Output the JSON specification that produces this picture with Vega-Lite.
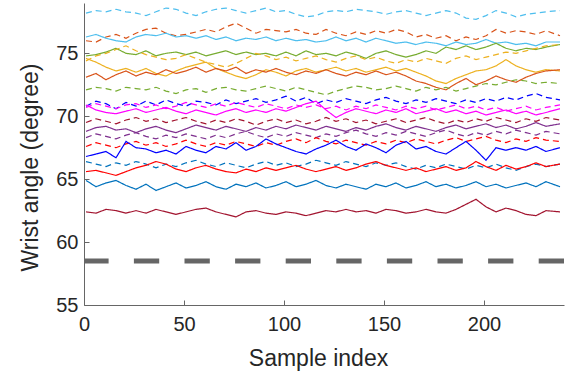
{
"$schema": "https://vega.github.io/schema/vega-lite/v6.json",
"width": 480, "height": 302,
"autosize": {"type": "none"},
"padding": {"left": 84, "top": 3, "right": 9, "bottom": 70},
"config": {"view": {"stroke": null}, "font": "Liberation Sans"},
"layer": [
{
"data": {"values": [
{"s":"a","x":1,"y":78.2},{"s":"a","x":6,"y":78.4},{"s":"a","x":11,"y":78.3},{"s":"a","x":16,"y":78.5},{"s":"a","x":21,"y":78.3},{"s":"a","x":26,"y":78.2},{"s":"a","x":31,"y":78.0},{"s":"a","x":36,"y":78.3},{"s":"a","x":41,"y":78.6},{"s":"a","x":46,"y":78.5},{"s":"a","x":51,"y":78.2},{"s":"a","x":56,"y":78.0},{"s":"a","x":61,"y":78.3},{"s":"a","x":66,"y":78.5},{"s":"a","x":71,"y":78.6},{"s":"a","x":76,"y":78.4},{"s":"a","x":81,"y":78.2},{"s":"a","x":86,"y":78.4},{"s":"a","x":91,"y":78.6},{"s":"a","x":96,"y":78.3},{"s":"a","x":101,"y":78.4},{"s":"a","x":106,"y":78.1},{"s":"a","x":111,"y":77.9},{"s":"a","x":116,"y":78.0},{"s":"a","x":121,"y":78.3},{"s":"a","x":126,"y":78.4},{"s":"a","x":131,"y":78.3},{"s":"a","x":136,"y":78.5},{"s":"a","x":141,"y":78.4},{"s":"a","x":146,"y":78.3},{"s":"a","x":151,"y":78.1},{"s":"a","x":156,"y":78.3},{"s":"a","x":161,"y":78.4},{"s":"a","x":166,"y":78.2},{"s":"a","x":171,"y":78.0},{"s":"a","x":176,"y":78.2},{"s":"a","x":181,"y":78.4},{"s":"a","x":186,"y":78.2},{"s":"a","x":191,"y":77.8},{"s":"a","x":196,"y":77.7},{"s":"a","x":201,"y":78.0},{"s":"a","x":206,"y":78.4},{"s":"a","x":211,"y":78.2},{"s":"a","x":216,"y":77.9},{"s":"a","x":221,"y":78.1},{"s":"a","x":226,"y":78.2},{"s":"a","x":231,"y":78.3},{"s":"a","x":238,"y":78.4},
{"s":"b","x":1,"y":76.0},{"s":"b","x":6,"y":75.9},{"s":"b","x":11,"y":76.3},{"s":"b","x":16,"y":76.5},{"s":"b","x":21,"y":76.2},{"s":"b","x":26,"y":76.6},{"s":"b","x":31,"y":76.9},{"s":"b","x":36,"y":77.0},{"s":"b","x":41,"y":76.6},{"s":"b","x":46,"y":76.4},{"s":"b","x":51,"y":76.5},{"s":"b","x":56,"y":76.7},{"s":"b","x":61,"y":76.9},{"s":"b","x":66,"y":76.7},{"s":"b","x":71,"y":77.1},{"s":"b","x":76,"y":77.4},{"s":"b","x":81,"y":77.0},{"s":"b","x":86,"y":76.6},{"s":"b","x":91,"y":76.9},{"s":"b","x":96,"y":76.8},{"s":"b","x":101,"y":76.7},{"s":"b","x":106,"y":76.9},{"s":"b","x":111,"y":76.6},{"s":"b","x":116,"y":76.5},{"s":"b","x":121,"y":76.9},{"s":"b","x":126,"y":76.6},{"s":"b","x":131,"y":76.4},{"s":"b","x":136,"y":76.7},{"s":"b","x":141,"y":76.5},{"s":"b","x":146,"y":76.8},{"s":"b","x":151,"y":76.6},{"s":"b","x":156,"y":76.9},{"s":"b","x":161,"y":76.7},{"s":"b","x":166,"y":76.3},{"s":"b","x":171,"y":76.5},{"s":"b","x":176,"y":76.2},{"s":"b","x":181,"y":76.4},{"s":"b","x":186,"y":76.0},{"s":"b","x":191,"y":76.3},{"s":"b","x":196,"y":76.1},{"s":"b","x":201,"y":76.4},{"s":"b","x":206,"y":76.9},{"s":"b","x":211,"y":76.6},{"s":"b","x":216,"y":76.8},{"s":"b","x":221,"y":76.7},{"s":"b","x":226,"y":76.5},{"s":"b","x":231,"y":76.8},{"s":"b","x":238,"y":76.4},
{"s":"c","x":1,"y":76.3},{"s":"c","x":6,"y":76.5},{"s":"c","x":11,"y":76.2},{"s":"c","x":16,"y":76.0},{"s":"c","x":21,"y":75.9},{"s":"c","x":26,"y":76.3},{"s":"c","x":31,"y":76.5},{"s":"c","x":36,"y":76.4},{"s":"c","x":41,"y":76.6},{"s":"c","x":46,"y":76.3},{"s":"c","x":51,"y":76.4},{"s":"c","x":56,"y":76.2},{"s":"c","x":61,"y":76.4},{"s":"c","x":66,"y":76.1},{"s":"c","x":71,"y":76.3},{"s":"c","x":76,"y":76.0},{"s":"c","x":81,"y":76.2},{"s":"c","x":86,"y":76.1},{"s":"c","x":91,"y":76.3},{"s":"c","x":96,"y":76.0},{"s":"c","x":101,"y":76.2},{"s":"c","x":106,"y":76.0},{"s":"c","x":111,"y":76.1},{"s":"c","x":116,"y":75.9},{"s":"c","x":121,"y":76.0},{"s":"c","x":126,"y":76.3},{"s":"c","x":131,"y":76.0},{"s":"c","x":136,"y":76.2},{"s":"c","x":141,"y":75.9},{"s":"c","x":146,"y":76.2},{"s":"c","x":151,"y":76.0},{"s":"c","x":156,"y":75.8},{"s":"c","x":161,"y":75.9},{"s":"c","x":166,"y":75.7},{"s":"c","x":171,"y":75.9},{"s":"c","x":176,"y":75.8},{"s":"c","x":181,"y":75.6},{"s":"c","x":186,"y":75.9},{"s":"c","x":191,"y":75.7},{"s":"c","x":196,"y":75.8},{"s":"c","x":201,"y":76.1},{"s":"c","x":206,"y":75.8},{"s":"c","x":211,"y":75.9},{"s":"c","x":216,"y":75.7},{"s":"c","x":221,"y":75.8},{"s":"c","x":226,"y":75.6},{"s":"c","x":231,"y":75.9},{"s":"c","x":238,"y":75.9},
{"s":"d","x":1,"y":74.8},{"s":"d","x":6,"y":74.9},{"s":"d","x":11,"y":75.1},{"s":"d","x":16,"y":75.4},{"s":"d","x":21,"y":75.0},{"s":"d","x":26,"y":74.9},{"s":"d","x":31,"y":75.2},{"s":"d","x":36,"y":74.8},{"s":"d","x":41,"y":75.0},{"s":"d","x":46,"y":75.1},{"s":"d","x":51,"y":74.9},{"s":"d","x":56,"y":75.1},{"s":"d","x":61,"y":74.8},{"s":"d","x":66,"y":75.0},{"s":"d","x":71,"y":75.2},{"s":"d","x":76,"y":74.9},{"s":"d","x":81,"y":75.1},{"s":"d","x":86,"y":74.9},{"s":"d","x":91,"y":75.0},{"s":"d","x":96,"y":74.8},{"s":"d","x":101,"y":75.1},{"s":"d","x":106,"y":74.8},{"s":"d","x":111,"y":75.2},{"s":"d","x":116,"y":74.9},{"s":"d","x":121,"y":75.0},{"s":"d","x":126,"y":74.8},{"s":"d","x":131,"y":75.1},{"s":"d","x":136,"y":74.9},{"s":"d","x":141,"y":74.6},{"s":"d","x":146,"y":75.0},{"s":"d","x":151,"y":75.2},{"s":"d","x":156,"y":74.9},{"s":"d","x":161,"y":74.7},{"s":"d","x":166,"y":74.9},{"s":"d","x":171,"y":75.2},{"s":"d","x":176,"y":75.0},{"s":"d","x":181,"y":75.5},{"s":"d","x":186,"y":75.3},{"s":"d","x":191,"y":75.6},{"s":"d","x":196,"y":75.3},{"s":"d","x":201,"y":75.5},{"s":"d","x":206,"y":75.8},{"s":"d","x":211,"y":75.4},{"s":"d","x":216,"y":75.2},{"s":"d","x":221,"y":75.4},{"s":"d","x":226,"y":75.3},{"s":"d","x":231,"y":75.5},{"s":"d","x":238,"y":75.7},
{"s":"e","x":1,"y":74.4},{"s":"e","x":6,"y":74.8},{"s":"e","x":11,"y":75.0},{"s":"e","x":16,"y":75.3},{"s":"e","x":21,"y":75.6},{"s":"e","x":26,"y":75.2},{"s":"e","x":31,"y":74.9},{"s":"e","x":36,"y":74.7},{"s":"e","x":41,"y":74.5},{"s":"e","x":46,"y":74.6},{"s":"e","x":51,"y":74.9},{"s":"e","x":56,"y":74.6},{"s":"e","x":61,"y":74.3},{"s":"e","x":66,"y":74.1},{"s":"e","x":71,"y":73.9},{"s":"e","x":76,"y":74.2},{"s":"e","x":81,"y":74.6},{"s":"e","x":86,"y":75.0},{"s":"e","x":91,"y":74.8},{"s":"e","x":96,"y":74.5},{"s":"e","x":101,"y":74.7},{"s":"e","x":106,"y":74.4},{"s":"e","x":111,"y":74.6},{"s":"e","x":116,"y":74.8},{"s":"e","x":121,"y":74.5},{"s":"e","x":126,"y":74.3},{"s":"e","x":131,"y":74.6},{"s":"e","x":136,"y":74.8},{"s":"e","x":141,"y":74.5},{"s":"e","x":146,"y":74.7},{"s":"e","x":151,"y":74.4},{"s":"e","x":156,"y":74.2},{"s":"e","x":161,"y":74.5},{"s":"e","x":166,"y":74.3},{"s":"e","x":171,"y":74.6},{"s":"e","x":176,"y":74.4},{"s":"e","x":181,"y":74.2},{"s":"e","x":186,"y":74.6},{"s":"e","x":191,"y":74.8},{"s":"e","x":196,"y":74.5},{"s":"e","x":201,"y":74.7},{"s":"e","x":206,"y":74.9},{"s":"e","x":211,"y":75.1},{"s":"e","x":216,"y":75.0},{"s":"e","x":221,"y":75.2},{"s":"e","x":226,"y":75.4},{"s":"e","x":231,"y":75.6},{"s":"e","x":238,"y":75.7},
{"s":"f","x":1,"y":74.6},{"s":"f","x":6,"y":74.3},{"s":"f","x":11,"y":73.9},{"s":"f","x":16,"y":73.6},{"s":"f","x":21,"y":73.8},{"s":"f","x":26,"y":73.5},{"s":"f","x":31,"y":73.8},{"s":"f","x":36,"y":73.4},{"s":"f","x":41,"y":73.2},{"s":"f","x":46,"y":73.6},{"s":"f","x":51,"y":73.9},{"s":"f","x":56,"y":74.1},{"s":"f","x":61,"y":74.3},{"s":"f","x":66,"y":73.8},{"s":"f","x":71,"y":73.5},{"s":"f","x":76,"y":73.2},{"s":"f","x":81,"y":73.0},{"s":"f","x":86,"y":73.3},{"s":"f","x":91,"y":73.7},{"s":"f","x":96,"y":73.5},{"s":"f","x":101,"y":73.2},{"s":"f","x":106,"y":73.6},{"s":"f","x":111,"y":73.8},{"s":"f","x":116,"y":73.5},{"s":"f","x":121,"y":73.7},{"s":"f","x":126,"y":73.9},{"s":"f","x":131,"y":73.6},{"s":"f","x":136,"y":73.8},{"s":"f","x":141,"y":73.5},{"s":"f","x":146,"y":73.7},{"s":"f","x":151,"y":73.9},{"s":"f","x":156,"y":73.6},{"s":"f","x":161,"y":73.8},{"s":"f","x":166,"y":73.5},{"s":"f","x":171,"y":73.2},{"s":"f","x":176,"y":72.8},{"s":"f","x":181,"y":72.6},{"s":"f","x":186,"y":73.0},{"s":"f","x":191,"y":73.3},{"s":"f","x":196,"y":73.6},{"s":"f","x":201,"y":73.7},{"s":"f","x":206,"y":74.0},{"s":"f","x":211,"y":74.5},{"s":"f","x":216,"y":74.0},{"s":"f","x":221,"y":73.7},{"s":"f","x":226,"y":73.5},{"s":"f","x":231,"y":73.7},{"s":"f","x":238,"y":73.6},
{"s":"g","x":1,"y":73.1},{"s":"g","x":6,"y":73.4},{"s":"g","x":11,"y":72.9},{"s":"g","x":16,"y":73.3},{"s":"g","x":21,"y":73.6},{"s":"g","x":26,"y":73.2},{"s":"g","x":31,"y":73.5},{"s":"g","x":36,"y":73.3},{"s":"g","x":41,"y":73.7},{"s":"g","x":46,"y":73.4},{"s":"g","x":51,"y":73.6},{"s":"g","x":56,"y":73.9},{"s":"g","x":61,"y":73.5},{"s":"g","x":66,"y":73.8},{"s":"g","x":71,"y":73.6},{"s":"g","x":76,"y":73.9},{"s":"g","x":81,"y":73.4},{"s":"g","x":86,"y":73.7},{"s":"g","x":91,"y":73.5},{"s":"g","x":96,"y":73.8},{"s":"g","x":101,"y":73.5},{"s":"g","x":106,"y":73.3},{"s":"g","x":111,"y":73.6},{"s":"g","x":116,"y":73.4},{"s":"g","x":121,"y":73.7},{"s":"g","x":126,"y":73.4},{"s":"g","x":131,"y":73.2},{"s":"g","x":136,"y":73.5},{"s":"g","x":141,"y":73.3},{"s":"g","x":146,"y":73.6},{"s":"g","x":151,"y":73.3},{"s":"g","x":156,"y":73.5},{"s":"g","x":161,"y":73.2},{"s":"g","x":166,"y":72.8},{"s":"g","x":171,"y":72.6},{"s":"g","x":176,"y":72.3},{"s":"g","x":181,"y":72.1},{"s":"g","x":186,"y":72.6},{"s":"g","x":191,"y":73.0},{"s":"g","x":196,"y":72.5},{"s":"g","x":201,"y":72.8},{"s":"g","x":206,"y":73.2},{"s":"g","x":211,"y":72.9},{"s":"g","x":216,"y":72.7},{"s":"g","x":221,"y":73.1},{"s":"g","x":226,"y":73.4},{"s":"g","x":231,"y":73.6},{"s":"g","x":238,"y":73.7},
{"s":"h","x":1,"y":72.1},{"s":"h","x":6,"y":72.3},{"s":"h","x":11,"y":72.2},{"s":"h","x":16,"y":72.0},{"s":"h","x":21,"y":72.3},{"s":"h","x":26,"y":72.2},{"s":"h","x":31,"y":72.1},{"s":"h","x":36,"y":72.3},{"s":"h","x":41,"y":72.0},{"s":"h","x":46,"y":71.8},{"s":"h","x":51,"y":72.1},{"s":"h","x":56,"y":72.2},{"s":"h","x":61,"y":71.9},{"s":"h","x":66,"y":72.2},{"s":"h","x":71,"y":72.3},{"s":"h","x":76,"y":72.1},{"s":"h","x":81,"y":72.0},{"s":"h","x":86,"y":72.2},{"s":"h","x":91,"y":72.4},{"s":"h","x":96,"y":72.2},{"s":"h","x":101,"y":72.0},{"s":"h","x":106,"y":72.3},{"s":"h","x":111,"y":72.1},{"s":"h","x":116,"y":71.9},{"s":"h","x":121,"y":71.7},{"s":"h","x":126,"y":72.0},{"s":"h","x":131,"y":72.2},{"s":"h","x":136,"y":72.4},{"s":"h","x":141,"y":72.3},{"s":"h","x":146,"y":72.1},{"s":"h","x":151,"y":72.2},{"s":"h","x":156,"y":72.4},{"s":"h","x":161,"y":72.2},{"s":"h","x":166,"y":72.0},{"s":"h","x":171,"y":72.3},{"s":"h","x":176,"y":72.1},{"s":"h","x":181,"y":72.3},{"s":"h","x":186,"y":72.0},{"s":"h","x":191,"y":72.2},{"s":"h","x":196,"y":72.4},{"s":"h","x":201,"y":72.6},{"s":"h","x":206,"y":72.5},{"s":"h","x":211,"y":72.7},{"s":"h","x":216,"y":72.9},{"s":"h","x":221,"y":72.8},{"s":"h","x":226,"y":72.6},{"s":"h","x":231,"y":72.7},{"s":"h","x":238,"y":72.6},
{"s":"i","x":1,"y":70.8},{"s":"i","x":6,"y":71.2},{"s":"i","x":11,"y":71.0},{"s":"i","x":16,"y":70.6},{"s":"i","x":21,"y":71.1},{"s":"i","x":26,"y":70.8},{"s":"i","x":31,"y":71.2},{"s":"i","x":36,"y":70.9},{"s":"i","x":41,"y":71.3},{"s":"i","x":46,"y":71.0},{"s":"i","x":51,"y":70.8},{"s":"i","x":56,"y":71.2},{"s":"i","x":61,"y":71.1},{"s":"i","x":66,"y":70.9},{"s":"i","x":71,"y":71.3},{"s":"i","x":76,"y":71.0},{"s":"i","x":81,"y":71.2},{"s":"i","x":86,"y":71.4},{"s":"i","x":91,"y":71.1},{"s":"i","x":96,"y":71.3},{"s":"i","x":101,"y":71.6},{"s":"i","x":106,"y":71.2},{"s":"i","x":111,"y":71.5},{"s":"i","x":116,"y":71.0},{"s":"i","x":121,"y":71.3},{"s":"i","x":126,"y":71.1},{"s":"i","x":131,"y":71.4},{"s":"i","x":136,"y":71.2},{"s":"i","x":141,"y":71.0},{"s":"i","x":146,"y":71.3},{"s":"i","x":151,"y":71.5},{"s":"i","x":156,"y":71.2},{"s":"i","x":161,"y":71.0},{"s":"i","x":166,"y":71.3},{"s":"i","x":171,"y":71.1},{"s":"i","x":176,"y":71.4},{"s":"i","x":181,"y":71.2},{"s":"i","x":186,"y":71.0},{"s":"i","x":191,"y":71.3},{"s":"i","x":196,"y":71.1},{"s":"i","x":201,"y":71.4},{"s":"i","x":206,"y":71.2},{"s":"i","x":211,"y":71.5},{"s":"i","x":216,"y":71.3},{"s":"i","x":221,"y":71.6},{"s":"i","x":226,"y":71.8},{"s":"i","x":231,"y":71.5},{"s":"i","x":238,"y":71.3},
{"s":"j","x":1,"y":70.7},{"s":"j","x":6,"y":71.0},{"s":"j","x":11,"y":70.8},{"s":"j","x":16,"y":70.6},{"s":"j","x":21,"y":70.9},{"s":"j","x":26,"y":71.0},{"s":"j","x":31,"y":70.7},{"s":"j","x":36,"y":70.9},{"s":"j","x":41,"y":70.6},{"s":"j","x":46,"y":70.8},{"s":"j","x":51,"y":71.1},{"s":"j","x":56,"y":70.9},{"s":"j","x":61,"y":70.7},{"s":"j","x":66,"y":71.0},{"s":"j","x":71,"y":70.8},{"s":"j","x":76,"y":71.1},{"s":"j","x":81,"y":70.9},{"s":"j","x":86,"y":70.7},{"s":"j","x":91,"y":71.0},{"s":"j","x":96,"y":70.8},{"s":"j","x":101,"y":70.6},{"s":"j","x":106,"y":70.9},{"s":"j","x":111,"y":70.7},{"s":"j","x":116,"y":70.9},{"s":"j","x":121,"y":70.6},{"s":"j","x":126,"y":70.8},{"s":"j","x":131,"y":70.5},{"s":"j","x":136,"y":70.8},{"s":"j","x":141,"y":70.6},{"s":"j","x":146,"y":70.9},{"s":"j","x":151,"y":70.7},{"s":"j","x":156,"y":70.5},{"s":"j","x":161,"y":70.8},{"s":"j","x":166,"y":70.6},{"s":"j","x":171,"y":70.8},{"s":"j","x":176,"y":70.5},{"s":"j","x":181,"y":70.7},{"s":"j","x":186,"y":70.9},{"s":"j","x":191,"y":70.6},{"s":"j","x":196,"y":70.8},{"s":"j","x":201,"y":70.5},{"s":"j","x":206,"y":70.7},{"s":"j","x":211,"y":70.4},{"s":"j","x":216,"y":70.6},{"s":"j","x":221,"y":70.8},{"s":"j","x":226,"y":70.5},{"s":"j","x":231,"y":70.7},{"s":"j","x":238,"y":70.9},
{"s":"k","x":1,"y":70.9},{"s":"k","x":6,"y":70.5},{"s":"k","x":11,"y":70.3},{"s":"k","x":16,"y":70.2},{"s":"k","x":21,"y":70.4},{"s":"k","x":26,"y":70.6},{"s":"k","x":31,"y":70.3},{"s":"k","x":36,"y":70.5},{"s":"k","x":41,"y":70.7},{"s":"k","x":46,"y":70.4},{"s":"k","x":51,"y":70.2},{"s":"k","x":56,"y":70.5},{"s":"k","x":61,"y":70.3},{"s":"k","x":66,"y":70.1},{"s":"k","x":71,"y":70.4},{"s":"k","x":76,"y":70.6},{"s":"k","x":81,"y":70.3},{"s":"k","x":86,"y":70.5},{"s":"k","x":91,"y":70.3},{"s":"k","x":96,"y":70.6},{"s":"k","x":101,"y":70.4},{"s":"k","x":106,"y":70.7},{"s":"k","x":111,"y":71.0},{"s":"k","x":116,"y":71.2},{"s":"k","x":121,"y":70.5},{"s":"k","x":126,"y":69.9},{"s":"k","x":131,"y":70.3},{"s":"k","x":136,"y":70.6},{"s":"k","x":141,"y":70.4},{"s":"k","x":146,"y":70.2},{"s":"k","x":151,"y":70.5},{"s":"k","x":156,"y":70.3},{"s":"k","x":161,"y":70.6},{"s":"k","x":166,"y":70.2},{"s":"k","x":171,"y":70.4},{"s":"k","x":176,"y":70.6},{"s":"k","x":181,"y":70.3},{"s":"k","x":186,"y":70.5},{"s":"k","x":191,"y":70.2},{"s":"k","x":196,"y":70.4},{"s":"k","x":201,"y":70.1},{"s":"k","x":206,"y":70.3},{"s":"k","x":211,"y":70.5},{"s":"k","x":216,"y":70.2},{"s":"k","x":221,"y":70.4},{"s":"k","x":226,"y":70.1},{"s":"k","x":231,"y":70.3},{"s":"k","x":238,"y":70.6},
{"s":"l","x":1,"y":69.5},{"s":"l","x":6,"y":69.8},{"s":"l","x":11,"y":69.6},{"s":"l","x":16,"y":69.4},{"s":"l","x":21,"y":69.7},{"s":"l","x":26,"y":69.9},{"s":"l","x":31,"y":69.6},{"s":"l","x":36,"y":69.8},{"s":"l","x":41,"y":69.5},{"s":"l","x":46,"y":69.7},{"s":"l","x":51,"y":69.9},{"s":"l","x":56,"y":69.6},{"s":"l","x":61,"y":69.4},{"s":"l","x":66,"y":69.7},{"s":"l","x":71,"y":69.5},{"s":"l","x":76,"y":69.8},{"s":"l","x":81,"y":69.6},{"s":"l","x":86,"y":69.3},{"s":"l","x":91,"y":69.6},{"s":"l","x":96,"y":69.8},{"s":"l","x":101,"y":69.5},{"s":"l","x":106,"y":69.7},{"s":"l","x":111,"y":69.4},{"s":"l","x":116,"y":69.6},{"s":"l","x":121,"y":69.9},{"s":"l","x":126,"y":69.6},{"s":"l","x":131,"y":69.8},{"s":"l","x":136,"y":69.5},{"s":"l","x":141,"y":69.7},{"s":"l","x":146,"y":69.4},{"s":"l","x":151,"y":69.6},{"s":"l","x":156,"y":69.8},{"s":"l","x":161,"y":69.5},{"s":"l","x":166,"y":69.7},{"s":"l","x":171,"y":69.9},{"s":"l","x":176,"y":69.6},{"s":"l","x":181,"y":69.4},{"s":"l","x":186,"y":69.7},{"s":"l","x":191,"y":69.5},{"s":"l","x":196,"y":69.8},{"s":"l","x":201,"y":69.6},{"s":"l","x":206,"y":69.9},{"s":"l","x":211,"y":69.7},{"s":"l","x":216,"y":69.5},{"s":"l","x":221,"y":69.8},{"s":"l","x":226,"y":69.6},{"s":"l","x":231,"y":69.9},{"s":"l","x":238,"y":69.7},
{"s":"m","x":1,"y":68.8},{"s":"m","x":6,"y":69.1},{"s":"m","x":11,"y":69.2},{"s":"m","x":16,"y":68.9},{"s":"m","x":21,"y":69.0},{"s":"m","x":26,"y":68.7},{"s":"m","x":31,"y":69.0},{"s":"m","x":36,"y":69.2},{"s":"m","x":41,"y":68.9},{"s":"m","x":46,"y":68.7},{"s":"m","x":51,"y":69.0},{"s":"m","x":56,"y":69.3},{"s":"m","x":61,"y":69.1},{"s":"m","x":66,"y":68.9},{"s":"m","x":71,"y":69.2},{"s":"m","x":76,"y":69.0},{"s":"m","x":81,"y":68.8},{"s":"m","x":86,"y":69.1},{"s":"m","x":91,"y":68.9},{"s":"m","x":96,"y":69.2},{"s":"m","x":101,"y":69.0},{"s":"m","x":106,"y":69.3},{"s":"m","x":111,"y":69.1},{"s":"m","x":116,"y":68.9},{"s":"m","x":121,"y":69.2},{"s":"m","x":126,"y":69.0},{"s":"m","x":131,"y":68.8},{"s":"m","x":136,"y":69.1},{"s":"m","x":141,"y":68.9},{"s":"m","x":146,"y":69.2},{"s":"m","x":151,"y":69.4},{"s":"m","x":156,"y":69.1},{"s":"m","x":161,"y":68.9},{"s":"m","x":166,"y":69.2},{"s":"m","x":171,"y":69.0},{"s":"m","x":176,"y":68.8},{"s":"m","x":181,"y":69.1},{"s":"m","x":186,"y":69.3},{"s":"m","x":191,"y":69.0},{"s":"m","x":196,"y":69.2},{"s":"m","x":201,"y":69.4},{"s":"m","x":206,"y":69.1},{"s":"m","x":211,"y":69.3},{"s":"m","x":216,"y":69.0},{"s":"m","x":221,"y":69.2},{"s":"m","x":226,"y":69.5},{"s":"m","x":231,"y":69.2},{"s":"m","x":238,"y":69.4},
{"s":"n","x":1,"y":68.3},{"s":"n","x":6,"y":68.6},{"s":"n","x":11,"y":68.4},{"s":"n","x":16,"y":68.2},{"s":"n","x":21,"y":68.5},{"s":"n","x":26,"y":68.7},{"s":"n","x":31,"y":68.4},{"s":"n","x":36,"y":68.2},{"s":"n","x":41,"y":68.5},{"s":"n","x":46,"y":68.3},{"s":"n","x":51,"y":68.6},{"s":"n","x":56,"y":68.4},{"s":"n","x":61,"y":68.2},{"s":"n","x":66,"y":68.5},{"s":"n","x":71,"y":68.3},{"s":"n","x":76,"y":68.6},{"s":"n","x":81,"y":68.8},{"s":"n","x":86,"y":68.5},{"s":"n","x":91,"y":68.3},{"s":"n","x":96,"y":68.6},{"s":"n","x":101,"y":68.4},{"s":"n","x":106,"y":68.7},{"s":"n","x":111,"y":68.5},{"s":"n","x":116,"y":68.3},{"s":"n","x":121,"y":68.6},{"s":"n","x":126,"y":68.4},{"s":"n","x":131,"y":68.7},{"s":"n","x":136,"y":68.9},{"s":"n","x":141,"y":68.6},{"s":"n","x":146,"y":68.4},{"s":"n","x":151,"y":68.7},{"s":"n","x":156,"y":68.5},{"s":"n","x":161,"y":68.8},{"s":"n","x":166,"y":68.6},{"s":"n","x":171,"y":68.4},{"s":"n","x":176,"y":68.7},{"s":"n","x":181,"y":68.9},{"s":"n","x":186,"y":68.6},{"s":"n","x":191,"y":68.4},{"s":"n","x":196,"y":68.7},{"s":"n","x":201,"y":68.5},{"s":"n","x":206,"y":68.8},{"s":"n","x":211,"y":68.6},{"s":"n","x":216,"y":68.9},{"s":"n","x":221,"y":68.7},{"s":"n","x":226,"y":68.5},{"s":"n","x":231,"y":68.8},{"s":"n","x":238,"y":68.6},
{"s":"o","x":1,"y":67.6},{"s":"o","x":6,"y":67.9},{"s":"o","x":11,"y":67.7},{"s":"o","x":16,"y":67.5},{"s":"o","x":21,"y":67.8},{"s":"o","x":26,"y":68.0},{"s":"o","x":31,"y":67.7},{"s":"o","x":36,"y":67.9},{"s":"o","x":41,"y":67.6},{"s":"o","x":46,"y":67.8},{"s":"o","x":51,"y":68.1},{"s":"o","x":56,"y":67.8},{"s":"o","x":61,"y":67.6},{"s":"o","x":66,"y":67.9},{"s":"o","x":71,"y":67.7},{"s":"o","x":76,"y":68.0},{"s":"o","x":81,"y":67.8},{"s":"o","x":86,"y":67.6},{"s":"o","x":91,"y":67.9},{"s":"o","x":96,"y":67.7},{"s":"o","x":101,"y":68.0},{"s":"o","x":106,"y":68.2},{"s":"o","x":111,"y":67.9},{"s":"o","x":116,"y":68.3},{"s":"o","x":121,"y":68.0},{"s":"o","x":126,"y":67.8},{"s":"o","x":131,"y":68.1},{"s":"o","x":136,"y":67.9},{"s":"o","x":141,"y":67.7},{"s":"o","x":146,"y":68.0},{"s":"o","x":151,"y":67.8},{"s":"o","x":156,"y":68.1},{"s":"o","x":161,"y":67.9},{"s":"o","x":166,"y":68.2},{"s":"o","x":171,"y":68.0},{"s":"o","x":176,"y":67.8},{"s":"o","x":181,"y":68.1},{"s":"o","x":186,"y":68.3},{"s":"o","x":191,"y":68.0},{"s":"o","x":196,"y":68.2},{"s":"o","x":201,"y":68.4},{"s":"o","x":206,"y":68.1},{"s":"o","x":211,"y":67.9},{"s":"o","x":216,"y":68.2},{"s":"o","x":221,"y":68.0},{"s":"o","x":226,"y":68.3},{"s":"o","x":231,"y":68.1},{"s":"o","x":238,"y":68.0},
{"s":"p","x":1,"y":66.8},{"s":"p","x":6,"y":67.0},{"s":"p","x":11,"y":67.2},{"s":"p","x":16,"y":66.7},{"s":"p","x":21,"y":68.0},{"s":"p","x":26,"y":67.5},{"s":"p","x":31,"y":67.4},{"s":"p","x":36,"y":67.1},{"s":"p","x":41,"y":67.3},{"s":"p","x":46,"y":67.0},{"s":"p","x":51,"y":67.6},{"s":"p","x":56,"y":67.3},{"s":"p","x":61,"y":67.1},{"s":"p","x":66,"y":67.6},{"s":"p","x":71,"y":67.4},{"s":"p","x":76,"y":67.9},{"s":"p","x":81,"y":67.3},{"s":"p","x":86,"y":67.6},{"s":"p","x":91,"y":68.2},{"s":"p","x":96,"y":67.8},{"s":"p","x":101,"y":67.5},{"s":"p","x":106,"y":67.2},{"s":"p","x":111,"y":67.0},{"s":"p","x":116,"y":67.4},{"s":"p","x":121,"y":67.7},{"s":"p","x":126,"y":68.1},{"s":"p","x":131,"y":67.6},{"s":"p","x":136,"y":67.3},{"s":"p","x":141,"y":67.8},{"s":"p","x":146,"y":67.5},{"s":"p","x":151,"y":67.1},{"s":"p","x":156,"y":67.7},{"s":"p","x":161,"y":68.0},{"s":"p","x":166,"y":67.4},{"s":"p","x":171,"y":67.6},{"s":"p","x":176,"y":67.2},{"s":"p","x":181,"y":67.0},{"s":"p","x":186,"y":67.5},{"s":"p","x":191,"y":68.0},{"s":"p","x":196,"y":67.3},{"s":"p","x":201,"y":66.5},{"s":"p","x":206,"y":67.5},{"s":"p","x":211,"y":67.3},{"s":"p","x":216,"y":67.5},{"s":"p","x":221,"y":67.3},{"s":"p","x":226,"y":67.6},{"s":"p","x":231,"y":67.2},{"s":"p","x":238,"y":67.5},
{"s":"q","x":1,"y":66.4},{"s":"q","x":6,"y":66.2},{"s":"q","x":11,"y":66.0},{"s":"q","x":16,"y":66.3},{"s":"q","x":21,"y":66.1},{"s":"q","x":26,"y":66.4},{"s":"q","x":31,"y":66.2},{"s":"q","x":36,"y":65.9},{"s":"q","x":41,"y":66.2},{"s":"q","x":46,"y":66.0},{"s":"q","x":51,"y":66.3},{"s":"q","x":56,"y":66.5},{"s":"q","x":61,"y":66.2},{"s":"q","x":66,"y":66.0},{"s":"q","x":71,"y":66.3},{"s":"q","x":76,"y":66.1},{"s":"q","x":81,"y":65.9},{"s":"q","x":86,"y":66.2},{"s":"q","x":91,"y":66.4},{"s":"q","x":96,"y":66.1},{"s":"q","x":101,"y":66.3},{"s":"q","x":106,"y":66.0},{"s":"q","x":111,"y":66.2},{"s":"q","x":116,"y":66.5},{"s":"q","x":121,"y":66.3},{"s":"q","x":126,"y":66.1},{"s":"q","x":131,"y":66.4},{"s":"q","x":136,"y":66.2},{"s":"q","x":141,"y":66.0},{"s":"q","x":146,"y":66.3},{"s":"q","x":151,"y":66.1},{"s":"q","x":156,"y":66.3},{"s":"q","x":161,"y":66.0},{"s":"q","x":166,"y":65.8},{"s":"q","x":171,"y":66.1},{"s":"q","x":176,"y":65.9},{"s":"q","x":181,"y":66.2},{"s":"q","x":186,"y":66.0},{"s":"q","x":191,"y":65.8},{"s":"q","x":196,"y":66.1},{"s":"q","x":201,"y":65.9},{"s":"q","x":206,"y":66.2},{"s":"q","x":211,"y":65.9},{"s":"q","x":216,"y":65.7},{"s":"q","x":221,"y":66.0},{"s":"q","x":226,"y":66.2},{"s":"q","x":231,"y":66.0},{"s":"q","x":238,"y":66.2},
{"s":"r","x":1,"y":65.6},{"s":"r","x":6,"y":65.7},{"s":"r","x":11,"y":65.5},{"s":"r","x":16,"y":65.3},{"s":"r","x":21,"y":65.6},{"s":"r","x":26,"y":65.9},{"s":"r","x":31,"y":66.1},{"s":"r","x":36,"y":66.4},{"s":"r","x":41,"y":66.2},{"s":"r","x":46,"y":65.8},{"s":"r","x":51,"y":65.6},{"s":"r","x":56,"y":65.9},{"s":"r","x":61,"y":66.1},{"s":"r","x":66,"y":65.8},{"s":"r","x":71,"y":65.6},{"s":"r","x":76,"y":65.5},{"s":"r","x":81,"y":65.8},{"s":"r","x":86,"y":65.6},{"s":"r","x":91,"y":65.9},{"s":"r","x":96,"y":65.7},{"s":"r","x":101,"y":65.9},{"s":"r","x":106,"y":66.1},{"s":"r","x":111,"y":65.8},{"s":"r","x":116,"y":65.6},{"s":"r","x":121,"y":65.8},{"s":"r","x":126,"y":66.0},{"s":"r","x":131,"y":65.7},{"s":"r","x":136,"y":65.9},{"s":"r","x":141,"y":66.2},{"s":"r","x":146,"y":66.4},{"s":"r","x":151,"y":66.1},{"s":"r","x":156,"y":65.9},{"s":"r","x":161,"y":65.7},{"s":"r","x":166,"y":65.9},{"s":"r","x":171,"y":65.6},{"s":"r","x":176,"y":65.8},{"s":"r","x":181,"y":66.0},{"s":"r","x":186,"y":65.7},{"s":"r","x":191,"y":65.9},{"s":"r","x":196,"y":66.4},{"s":"r","x":201,"y":66.0},{"s":"r","x":206,"y":65.7},{"s":"r","x":211,"y":66.1},{"s":"r","x":216,"y":65.8},{"s":"r","x":221,"y":66.0},{"s":"r","x":226,"y":66.3},{"s":"r","x":231,"y":66.0},{"s":"r","x":238,"y":66.2},
{"s":"s","x":1,"y":64.9},{"s":"s","x":6,"y":64.4},{"s":"s","x":11,"y":64.7},{"s":"s","x":16,"y":64.9},{"s":"s","x":21,"y":64.5},{"s":"s","x":26,"y":64.2},{"s":"s","x":31,"y":64.6},{"s":"s","x":36,"y":64.1},{"s":"s","x":41,"y":64.4},{"s":"s","x":46,"y":64.7},{"s":"s","x":51,"y":64.3},{"s":"s","x":56,"y":64.5},{"s":"s","x":61,"y":64.8},{"s":"s","x":66,"y":64.4},{"s":"s","x":71,"y":64.2},{"s":"s","x":76,"y":64.6},{"s":"s","x":81,"y":64.4},{"s":"s","x":86,"y":64.7},{"s":"s","x":91,"y":64.3},{"s":"s","x":96,"y":64.5},{"s":"s","x":101,"y":64.8},{"s":"s","x":106,"y":64.4},{"s":"s","x":111,"y":64.6},{"s":"s","x":116,"y":64.9},{"s":"s","x":121,"y":64.5},{"s":"s","x":126,"y":64.3},{"s":"s","x":131,"y":64.6},{"s":"s","x":136,"y":64.4},{"s":"s","x":141,"y":64.2},{"s":"s","x":146,"y":64.6},{"s":"s","x":151,"y":64.4},{"s":"s","x":156,"y":64.7},{"s":"s","x":161,"y":64.3},{"s":"s","x":166,"y":64.5},{"s":"s","x":171,"y":64.8},{"s":"s","x":176,"y":64.4},{"s":"s","x":181,"y":64.6},{"s":"s","x":186,"y":64.3},{"s":"s","x":191,"y":64.5},{"s":"s","x":196,"y":64.8},{"s":"s","x":201,"y":64.4},{"s":"s","x":206,"y":64.6},{"s":"s","x":211,"y":64.3},{"s":"s","x":216,"y":64.5},{"s":"s","x":221,"y":64.7},{"s":"s","x":226,"y":64.4},{"s":"s","x":231,"y":64.8},{"s":"s","x":238,"y":64.4},
{"s":"t","x":1,"y":62.4},{"s":"t","x":6,"y":62.3},{"s":"t","x":11,"y":62.6},{"s":"t","x":16,"y":62.5},{"s":"t","x":21,"y":62.3},{"s":"t","x":26,"y":62.5},{"s":"t","x":31,"y":62.3},{"s":"t","x":36,"y":62.6},{"s":"t","x":41,"y":62.4},{"s":"t","x":46,"y":62.2},{"s":"t","x":51,"y":62.4},{"s":"t","x":56,"y":62.6},{"s":"t","x":61,"y":62.7},{"s":"t","x":66,"y":62.4},{"s":"t","x":71,"y":62.2},{"s":"t","x":76,"y":62.0},{"s":"t","x":81,"y":62.4},{"s":"t","x":86,"y":62.5},{"s":"t","x":91,"y":62.3},{"s":"t","x":96,"y":62.2},{"s":"t","x":101,"y":62.4},{"s":"t","x":106,"y":62.3},{"s":"t","x":111,"y":62.1},{"s":"t","x":116,"y":62.3},{"s":"t","x":121,"y":62.5},{"s":"t","x":126,"y":62.4},{"s":"t","x":131,"y":62.6},{"s":"t","x":136,"y":62.4},{"s":"t","x":141,"y":62.5},{"s":"t","x":146,"y":62.3},{"s":"t","x":151,"y":62.6},{"s":"t","x":156,"y":62.5},{"s":"t","x":161,"y":62.3},{"s":"t","x":166,"y":62.4},{"s":"t","x":171,"y":62.6},{"s":"t","x":176,"y":62.4},{"s":"t","x":181,"y":62.3},{"s":"t","x":186,"y":62.6},{"s":"t","x":191,"y":63.0},{"s":"t","x":196,"y":63.4},{"s":"t","x":201,"y":62.8},{"s":"t","x":206,"y":62.4},{"s":"t","x":211,"y":62.7},{"s":"t","x":216,"y":62.5},{"s":"t","x":221,"y":62.2},{"s":"t","x":226,"y":62.1},{"s":"t","x":231,"y":62.5},{"s":"t","x":238,"y":62.4}
]},
"mark": {"type": "line", "strokeWidth": 1.2, "clip": true},
"encoding": {
"x": {"field": "x", "type": "quantitative", "scale": {"domain": [0, 240], "nice": false},
 "axis": {"values": [0, 50, 100, 150, 200], "title": "Sample index", "grid": false, "labelFlush": false,
  "domainColor": "#666666", "tickColor": "#666666", "tickSize": -5, "labelPadding": 14,
  "labelFontSize": 20, "labelColor": "#262626", "titleFontSize": 23, "titleFontWeight": "normal", "titleColor": "#262626",
  "titleY": 60, "titleBaseline": "alphabetic", "titleX": 234}},
"y": {"field": "y", "type": "quantitative", "scale": {"domain": [55, 79], "nice": false, "zero": false},
 "axis": {"values": [55, 60, 65, 70, 75], "title": "Wrist angle (degree)", "grid": false, "labelFlush": false,
  "domainColor": "#666666", "tickColor": "#666666", "tickSize": -5, "labelPadding": 11,
  "labelFontSize": 20, "labelColor": "#262626", "titleFontSize": 23, "titleFontWeight": "normal", "titleColor": "#262626",
  "titleX": -47, "titleY": 164, "titleBaseline": "alphabetic"}},
"color": {"field": "s", "type": "nominal", "legend": null,
 "scale": {"domain": ["a","b","c","d","e","f","g","h","i","j","k","l","m","n","o","p","q","r","s","t"],
  "range": ["#4DBEEE","#D95319","#4DBEEE","#77AC30","#EDB120","#EDB120","#D95319","#77AC30","#0000FF","#FF00FF","#FF00FF","#A2142F","#7E2F8E","#7E2F8E","#FF0000","#0000FF","#0072BD","#FF0000","#0072BD","#A2142F"]}},
"strokeDash": {"field": "s", "type": "nominal", "legend": null,
 "scale": {"domain": ["a","b","c","d","e","f","g","h","i","j","k","l","m","n","o","p","q","r","s","t"],
  "range": [[6,4],[6,4],[1,0],[1,0],[6,4],[1,0],[1,0],[6,4],[6,4],[6,4],[1,0],[6,4],[1,0],[6,4],[6,4],[1,0],[6,4],[1,0],[1,0],[1,0]]}}
}
},
{
"data": {"values": [{"level": 58.5}]},
"mark": {"type": "rule", "color": "#666666", "strokeWidth": 5, "strokeDash": [25.3, 25.3]},
"encoding": {"y": {"field": "level", "type": "quantitative"}}
}
]
}
